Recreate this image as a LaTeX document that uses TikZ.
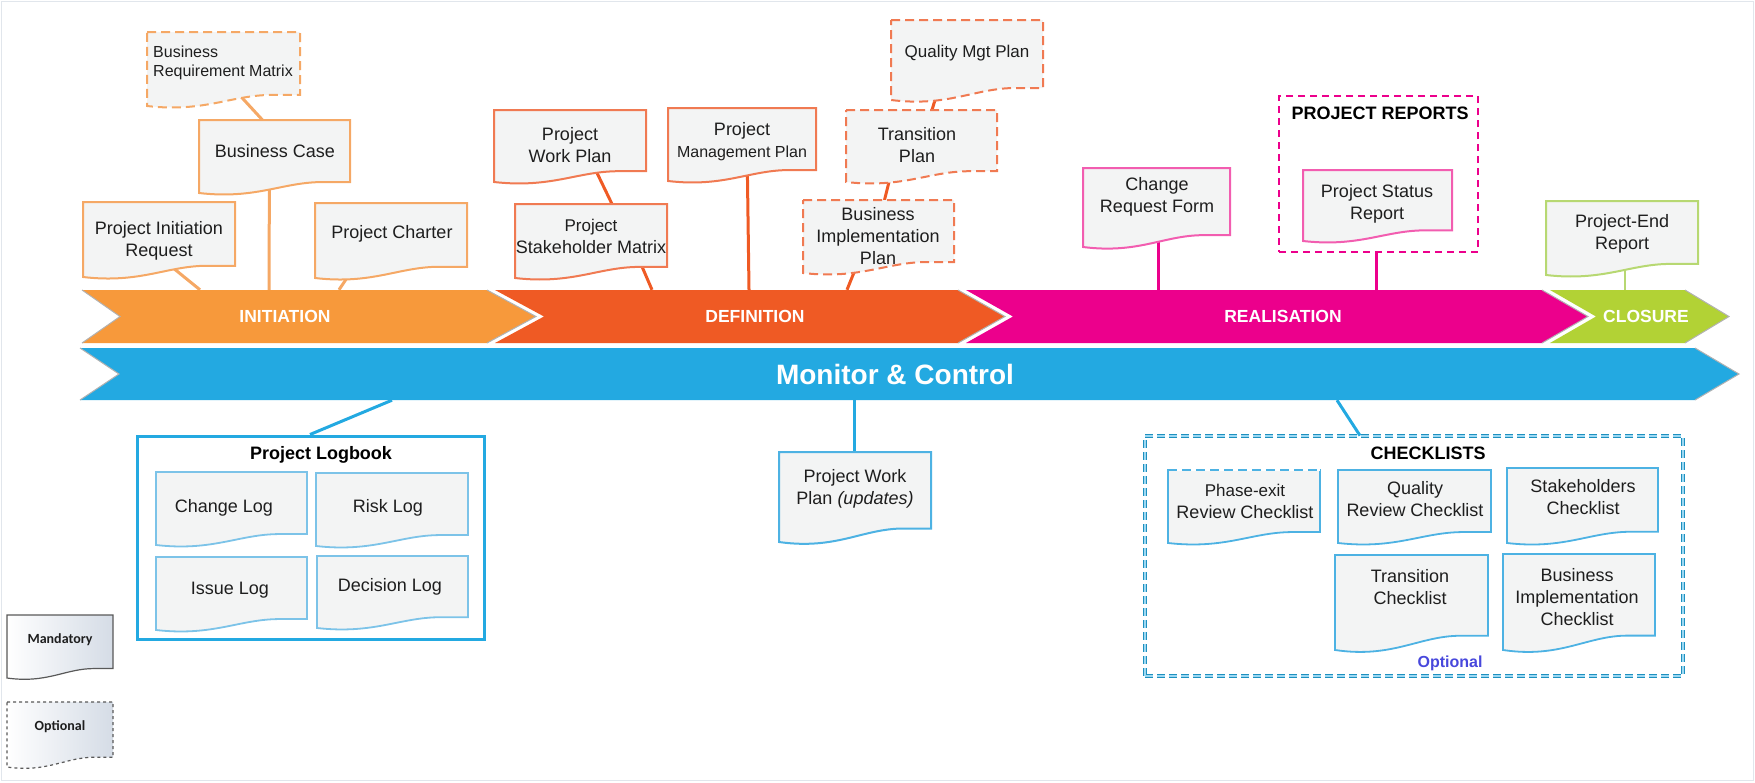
\documentclass[tikz,border=0pt]{standalone}
\usepackage{fontspec}
\setmainfont{Liberation Sans}
\newfontfamily\legfont{Carlito}
\usetikzlibrary{backgrounds,calc}
\definecolor{cInit}{HTML}{F7993B}
\definecolor{cInitL}{HTML}{F5A865}
\definecolor{cDef}{HTML}{EF5A24}
\definecolor{cDefL}{HTML}{F07A52}
\definecolor{cReal}{HTML}{EC008C}
\definecolor{cRealL}{HTML}{F25DB0}
\definecolor{cClose}{HTML}{B2D235}
\definecolor{cCloseL}{HTML}{B7D872}
\definecolor{cMon}{HTML}{23A9E1}
\definecolor{cMonL}{HTML}{4DB2E3}
\definecolor{cLogL}{HTML}{7CC3E8}
\definecolor{docfill}{HTML}{F3F4F4}
\definecolor{txt}{HTML}{1E1E1E}
\definecolor{optblue}{HTML}{4848DC}
\definecolor{legfill}{HTML}{D5DCE6}
\definecolor{frameline}{HTML}{E1E6EC}
\newcommand\docshape[9]{%
  \path[#2] (#3,#4) -- (#5,#4) -- (#5,{#6-0.15*(#6-#4)}) -- ({#3+0.82*(#5-#3)},{#6-0.15*(#6-#4)})
    .. controls ({#3+0.55*(#5-#3)},{#6-0.15*(#6-#4)}) and ({#3+0.38*(#5-#3)},{#6+0.09*(#6-#4)}) .. (#3,#6) -- cycle;
  \node[box, minimum width={(#5-#3)*1pt}, minimum height={(#6-#4)*1pt}] (#1) at ({(#3+#5)/2},{(#4+#6)/2}) {};
  \node[doctext] (#1-t) at (#7,#8) {#9};
}
\begin{document}
\begin{tikzpicture}[x=1pt,y=-1pt,
  box/.style={inner sep=0pt, outer sep=0pt},
  doctext/.style={font=\fontsize{18}{22}\selectfont, text=txt, align=center, inner sep=0pt},
  boldtitle/.style={font=\fontsize{18}{22}\selectfont\bfseries, text=black, inner sep=0pt},
  initdoc/.style={fill=docfill, draw=cInitL, line width=2pt},
  defdoc/.style={fill=docfill, draw=cDefL, line width=2pt},
  realdoc/.style={fill=docfill, draw=cRealL, line width=2pt},
  closedoc/.style={fill=docfill, draw=cCloseL, line width=2pt},
  mondoc/.style={fill=docfill, draw=cMonL, line width=2pt},
  logdoc/.style={fill=docfill, draw=cLogL, line width=1.8pt},
  ckdoc/.style={fill=docfill, draw=cMonL, line width=1.8pt},
  legdoc/.style={left color=white, right color=legfill, draw=black!65, line width=1.2pt},
  optdash/.style={dash pattern=on 9pt off 5pt},
  barlabel/.style={font=\fontsize{17.5}{20}\selectfont\bfseries, text=white, minimum height=53pt, inner sep=0pt},
  chevedge/.style={draw=gray!60, line width=1pt},
  initconn/.style={draw=cInitL, line width=3pt},
  defconn/.style={draw=cDef, line width=3pt},
  realconn/.style={draw=cReal, line width=3pt},
  closeconn/.style={draw=cCloseL, line width=2.2pt},
  monconn/.style={draw=cMon, line width=3pt}]
\useasboundingbox (0,0) rectangle (1755,782);
\draw[frameline, line width=1.5pt] (1.5,1.5) rectangle (1753.5,780.5);

% ---- phase bars
\fill[cClose] (1550,290) -- (1685,290) -- (1729,316.5) -- (1685,343) -- (1550,343) -- (1596,316.5) -- cycle;
\draw[chevedge] (1685,290) -- (1729,316.5) -- (1685,343);
\fill[cReal] (966,290) -- (1542,290) -- (1588,316.5) -- (1542,343) -- (966,343) -- (1013,316.5) -- cycle;
\draw[chevedge] (1542,290) -- (1588,316.5) -- (1542,343);
\fill[cDef] (495,290) -- (958,290) -- (1005,316.5) -- (958,343) -- (495,343) -- (544,316.5) -- cycle;
\draw[chevedge] (958,290) -- (1005,316.5) -- (958,343);
\fill[cInit] (82,290) -- (487,290) -- (536,316.5) -- (487,343) -- (82,343) -- (120,316.5) -- cycle;
\draw[chevedge] (487,290) -- (536,316.5) -- (487,343);
\draw[chevedge] (82,290) -- (120,316.5) -- (82,343);
\fill[cMon] (80,348) -- (1695,348) -- (1739,374) -- (1695,400) -- (80,400) -- (119,374) -- cycle;
\draw[chevedge] (1695,348) -- (1739,374) -- (1695,400);
\draw[chevedge] (80,348) -- (119,374) -- (80,400);

\node[barlabel] (init) at (285,316.5) {INITIATION};
\node[barlabel] (def) at (755,316.5) {DEFINITION};
\node[barlabel] (real) at (1283,316.5) {REALISATION};
\node[barlabel] (close) at (1646,316.5) {CLOSURE};
\node[barlabel, minimum height=52pt, font=\fontsize{28}{32}\selectfont\bfseries] (mon) at (895,374) {Monitor \& Control};

% ---- initiation documents
\docshape{brm}{initdoc,optdash}{147}{32}{300}{106}{223}{63}{\fontsize{16}{19}\selectfont\begin{tabular}{@{}l@{}}Business\\Requirement Matrix\end{tabular}}
\docshape{bc}{initdoc}{199}{120}{350}{193}{275}{151}{Business Case}
\docshape{pir}{initdoc}{83}{202}{235}{277}{159}{241}{Project Initiation\\Request}
\docshape{pc}{initdoc}{315}{203}{467}{278}{392}{234}{Project Charter}

% ---- definition documents
\docshape{pwp}{defdoc}{494}{110}{646}{182}{570}{145}{Project\\Work Plan}
\docshape{psm}{defdoc}{515}{204}{667}{278}{591}{236}{\fontsize{17}{22}\selectfont Project\\Stakeholder Matrix}
\docshape{pmp}{defdoc}{668}{108}{816}{181}{742}{142}{Project\\{\fontsize{16}{19}\selectfont Management Plan}}
\docshape{qmp}{defdoc,optdash}{891}{20}{1043}{100}{967}{53}{\fontsize{17}{20}\selectfont Quality Mgt Plan}
\docshape{tp}{defdoc,optdash}{846}{110}{997}{182}{917}{145}{Transition\\Plan}
\docshape{bip}{defdoc,optdash}{803}{200}{954}{273}{878}{236}{Business\\Implementation\\Plan}

% ---- realisation / closure
\node[draw=cReal, line width=2pt, dash pattern=on 7pt off 5pt, minimum width=199pt, minimum height=156pt, inner sep=0pt] (prframe) at (1378.5,174) {};
\node[boldtitle] (prtitle) at (1380,113) {PROJECT REPORTS};
\docshape{crf}{realdoc}{1083}{168}{1230}{247}{1157}{197}{Change\\Request Form}
\docshape{psr}{realdoc}{1303}{170}{1452}{241}{1377}{204}{Project Status\\Report}
\docshape{per}{closedoc}{1546}{201}{1698}{275}{1622}{234}{Project-End\\Report}

% ---- monitor & control
\docshape{pwpu}{mondoc}{779}{452}{931}{542}{855}{489}{Project Work\\Plan \textit{(updates)}}

\node[draw=cMon, line width=3pt, minimum width=347pt, minimum height=203pt, inner sep=0pt] (logbook) at (310.5,537.5) {};
\node[boldtitle] (logtitle) at (321,455) {Project Logbook};
\docshape{chl}{logdoc}{156}{472}{307}{545}{224}{508}{Change Log}
\docshape{rkl}{logdoc}{316}{473}{468}{546}{388}{508}{Risk Log}
\docshape{isl}{logdoc}{156}{557}{307}{630}{230}{590}{Issue Log}
\docshape{dcl}{logdoc}{317}{556}{468}{628}{390}{587}{Decision Log}

\node[draw=cMon!85!black, double=cMon!45, double distance=1.6pt, line width=0.8pt, dash pattern=on 8pt off 4pt, minimum width=538pt, minimum height=240pt, inner sep=0pt] (cklist) at (1414,556) {};
\node[boldtitle] (cktitle) at (1428,453) {CHECKLISTS};
\docshape{pe}{ckdoc}{1168}{470}{1320}{543}{1245}{501}{\fontsize{17}{22}\selectfont Phase-exit\\Review Checklist}
\draw[white, line width=2.6pt] (pe.north west) -- (pe.north east);
\draw[draw=cMonL, line width=1.8pt, optdash] (pe.north west) -- (pe.north east);
\docshape{qr}{ckdoc}{1338}{470}{1491}{543}{1415}{499}{Quality\\Review Checklist}
\docshape{sk}{ckdoc}{1507}{468}{1658}{543}{1583}{497}{Stakeholders\\Checklist}
\docshape{tc}{ckdoc}{1335}{555}{1488}{650}{1410}{587}{Transition\\Checklist}
\docshape{bic}{ckdoc}{1503}{554}{1655}{650}{1577}{597}{Business\\Implementation\\Checklist}
\node[font=\fontsize{16}{19}\selectfont\bfseries, text=optblue, inner sep=0pt] (ckopt) at (1450,663) {Optional};

% ---- legend
\docshape{legm}{legdoc}{7}{615}{113}{678}{60}{640}{\legfont\bfseries\fontsize{14}{16}\selectfont Mandatory}
\docshape{lego}{legdoc,dashed}{7}{702}{113}{767}{60}{727}{\legfont\bfseries\fontsize{14}{16}\selectfont Optional}

% ---- connectors
\begin{pgfonlayer}{background}
\draw[initconn] ([xshift=-8pt]brm.center) -- ([xshift=-12pt]bc.north);
\draw[initconn] ([xshift=-5pt]bc.center) -- ([xshift=-16pt]init.north);
\draw[initconn] ([xshift=-21pt]pir.center) -- ([xshift=-85pt]init.north);
\draw[initconn] ([xshift=-19pt]pc.center) -- ([xshift=54pt]init.north);
\draw[defconn] ([xshift=14pt]pwp.center) -- ([xshift=21pt]psm.north);
\draw[defconn] ([xshift=40pt]psm.center) -- ([xshift=-103pt]def.north);
\draw[defconn] ([xshift=5pt]pmp.center) -- ([xshift=-6pt]def.north);
\draw[defconn] ([xshift=-20pt]qmp.center) -- ([xshift=10.5pt]tp.north);
\draw[defconn] ([xshift=-23.5pt]tp.center) -- ([xshift=6pt]bip.north);
\draw[defconn] ([xshift=-10pt]bip.center) -- ([xshift=92pt]def.north);
\draw[realconn] ([xshift=1.5pt]crf.center) -- ([xshift=-125pt]real.north);
\draw[realconn] ([xshift=-2.5pt]prframe.south) -- ([xshift=93pt]real.north);
\draw[closeconn] ([xshift=3pt]per.center) -- ([xshift=-21pt]close.north);
\draw[monconn] ([xshift=-41pt]mon.south) -- ([xshift=-1pt]pwpu.north);
\draw[monconn] ([xshift=-503pt]mon.south) -- ([xshift=-0.5pt]logbook.north);
\draw[monconn] ([xshift=442pt]mon.south) -- ([xshift=-54pt]cklist.north);
\end{pgfonlayer}
\end{tikzpicture}
\end{document}
